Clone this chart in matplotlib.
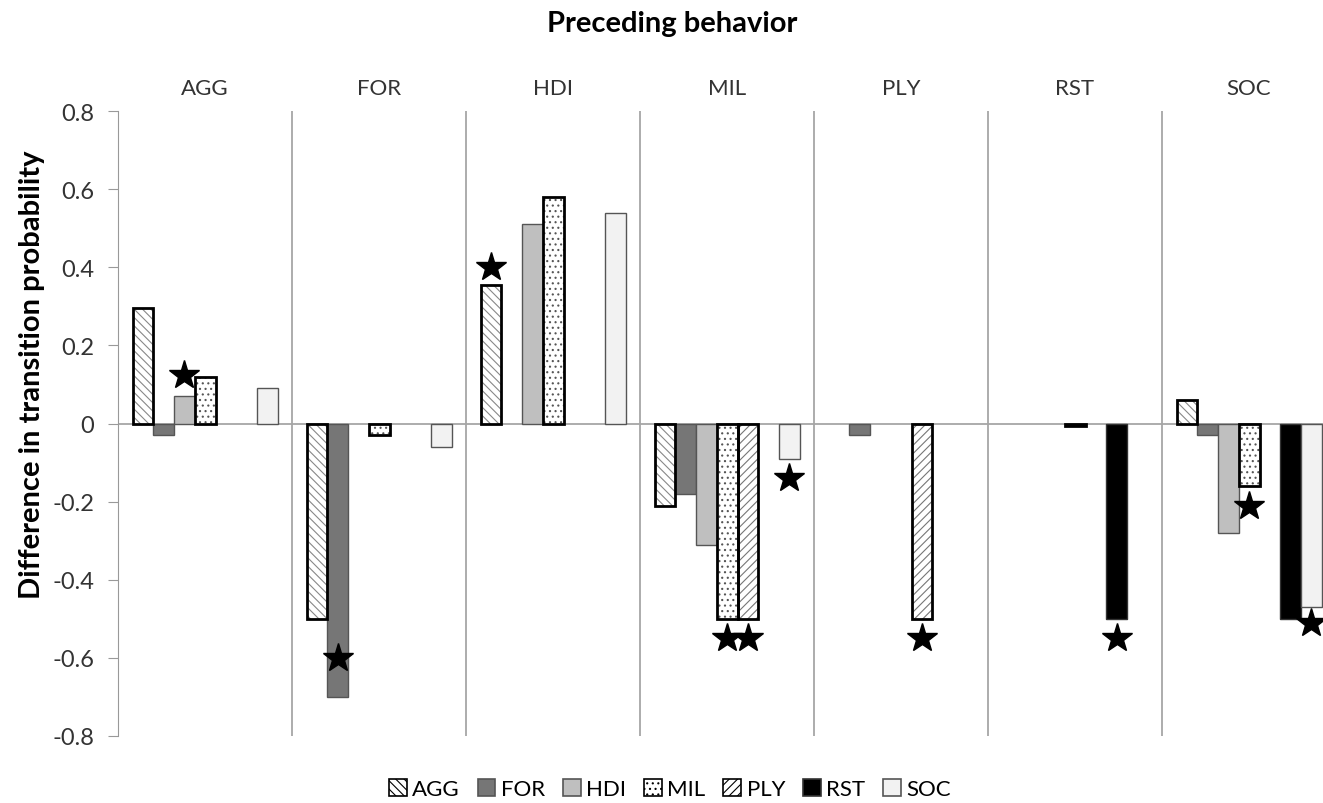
import numpy as np
import matplotlib.pyplot as plt
from matplotlib.patches import Patch

plt.rcParams['font.family'] = ['Lato', 'DejaVu Sans']
plt.rcParams['hatch.linewidth'] = 0.8

# preceding behavior (groups) and following behavior (series)
groups = ['AGG', 'FOR', 'HDI', 'MIL', 'PLY', 'RST', 'SOC']
series = ['AGG', 'FOR', 'HDI', 'MIL', 'PLY', 'RST', 'SOC']

# values[series][group]
agg = [0.295, -0.50, 0.355, -0.21, 0.0, 0.0, 0.06]
forr = [-0.03, -0.70, 0.0, -0.18, -0.03, 0.0, -0.03]
hdi = [0.07, 0.0, 0.51, -0.31, 0.0, 0.0, -0.28]
mil = [0.12, -0.03, 0.58, -0.50, 0.0, -0.006, -0.16]
ply = [0.0, 0.0, 0.0, -0.50, -0.50, 0.0, 0.0]
rst = [0.0, 0.0, 0.0, 0.0, 0.0, -0.50, -0.50]
soc = [0.09, -0.06, 0.54, -0.09, 0.0, 0.0, -0.47]
values = [agg, forr, hdi, mil, ply, rst, soc]

# significance stars: (group index, series index, star y)
stars = [(0, 2, 0.125), (1, 1, -0.60), (2, 0, 0.40), (3, 3, -0.55), (3, 4, -0.55),
         (3, 6, -0.14), (4, 4, -0.55), (5, 5, -0.55), (6, 3, -0.21), (6, 6, -0.51)]

# styles: face, edge, hatch, hatch colour, outline width
styles = [
    ('white', '#000000', '\\\\\\\\', '#888888', 2.0),
    ('#767676', '#555555', None, None, 1.0),
    ('#bfbfbf', '#555555', None, None, 1.0),
    ('white', '#000000', '...', '#555555', 2.0),
    ('white', '#000000', '////', '#777777', 2.0),
    ('#000000', '#333333', None, None, 1.0),
    ('#f2f2f2', '#555555', None, None, 1.0),
]

W, H = 1323, 804
fig = plt.figure(figsize=(W / 100, H / 100), dpi=100)
ax = fig.add_axes([118 / W, 1 - 737 / H, (1336 - 118) / W, (737 - 112) / H])

bw = 0.119
off = 0.0845
for s in range(7):
    v = np.array(values[s])
    keep = v != 0
    x = (np.arange(7) + off + bw * (s + 0.5))[keep]
    v = v[keep]
    face, edge, hatch, hcol, lw = styles[s]
    if hatch:
        ax.bar(x, v, bw, color=face, edgecolor=hcol, hatch=hatch, linewidth=0, zorder=3)
        ax.bar(x, v, bw, fill=False, edgecolor=edge, linewidth=lw, zorder=4)
    else:
        ax.bar(x, v, bw, color=face, edgecolor=edge, linewidth=lw, zorder=3)

for g, s, y in stars:
    ax.plot(g + off + bw * (s + 0.5), y, marker='*', color='black', markersize=22, zorder=5, clip_on=False)

ax.set_xlim(0, 7)
ax.set_ylim(-0.8, 0.8)
ax.set_yticks(np.arange(-0.8, 0.81, 0.2))
ax.set_yticklabels(['-0.8', '-0.6', '-0.4', '-0.2', '0', '0.2', '0.4', '0.6', '0.8'], fontsize=17, color='#333333')
ax.set_xticks([])
for sp in ['top', 'right', 'bottom']:
    ax.spines[sp].set_visible(False)
ax.spines['left'].set_color('#999999')
ax.tick_params(axis='y', color='#999999', length=7, pad=10)
ax.axhline(0, color='#a6a6a6', linewidth=1.3, zorder=2)
for g in range(1, 7):
    ax.axvline(g, color='#a6a6a6', linewidth=1.3, zorder=1)
for g, name in enumerate(groups):
    ax.text(g + 0.5, 0.858, name, ha='center', va='center', fontsize=16, color='#333333')

ax.set_ylabel('Difference in transition probability', fontsize=21, fontweight='bold')
ax.yaxis.set_label_coords(-0.06, 0.58)
fig.text(672 / W, 1 - 24 / H, 'Preceding behavior', ha='center', va='center', fontsize=21, fontweight='bold')

handles = []
for s in range(7):
    face, edge, hatch, hcol, lw = styles[s]
    handles.append(Patch(facecolor=face, edgecolor=edge, hatch=hatch, linewidth=1.2))
fig.legend(handles, series, loc='center', bbox_to_anchor=(670 / W, 1 - 790 / H), ncol=7, frameon=False,
           fontsize=16, handlelength=0.8, handleheight=0.8, handletextpad=0.25, columnspacing=0.8)

fig.savefig('out.png', dpi=100)
